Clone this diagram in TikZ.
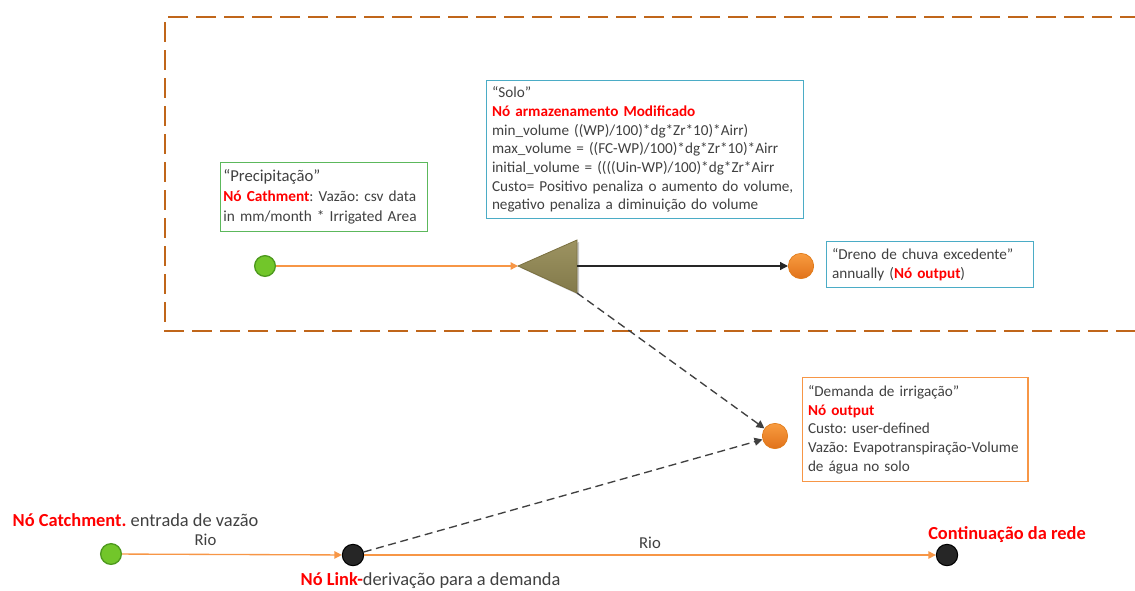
\documentclass[tikz,border=0pt]{standalone}
\usepackage{fontspec}
\setmainfont{Carlito}
\usetikzlibrary{arrows.meta}
\frenchspacing
\definecolor{txt}{HTML}{404040}
\definecolor{frame}{HTML}{C0661A}
\definecolor{flow}{HTML}{F79646}
\definecolor{gfill}{HTML}{72C62A}
\definecolor{gline}{HTML}{4E9A1E}
\definecolor{otop}{HTML}{F99C40}
\definecolor{obot}{HTML}{E0721A}
\definecolor{oline}{HTML}{E07A18}
\definecolor{kfill}{HTML}{262626}
\definecolor{olivefill}{HTML}{948A54}
\definecolor{oliveline}{HTML}{7A7040}
\definecolor{bbox}{HTML}{4BACC6}
\definecolor{gbox}{HTML}{5CB85C}
\definecolor{obox}{HTML}{F79646}
\definecolor{hot}{HTML}{FF0000}
\newcommand{\hl}[1]{\textbf{\color{hot}#1}}
\tikzset{
  px/.style={x=0.75pt,y=-0.75pt},
  base/.style={font=\fontsize{11.4}{14}\selectfont, text=txt},
  gnode/.style={circle, draw=gline, line width=1pt, fill=gfill, minimum size=15.5pt, inner sep=0pt},
  onode/.style={circle, draw=oline, line width=0.5pt, top color=otop, bottom color=obot, minimum size=19pt, inner sep=0pt},
  knode/.style={circle, draw=black, line width=0.8pt, fill=kfill, minimum size=16pt, inner sep=0pt},
  infobox/.style={base, draw, line width=1pt, align=left, anchor=north west, inner xsep=4pt, inner ysep=0pt},
  river/.style={draw=flow, line width=1pt, -{Triangle[length=5.5pt,width=5.5pt]}},
  plain/.style={draw=kfill, line width=1pt, -{Triangle[length=6pt,width=6pt]}},
  dlink/.style={draw=txt, line width=1pt, dash pattern=on 6pt off 3.5pt, -{Triangle[length=6pt,width=6pt]}},
  biglabel/.style={font=\fontsize{13.8}{16}\selectfont},
}
\begin{document}
\begin{tikzpicture}[px, base]
\useasboundingbox (0,0) rectangle (1135,590);

% catchment frame, open to the right
\draw[frame, line width=2pt, dash pattern=on 15pt off 6pt]
  (1140,17) -- (165,17) -- (165,331) -- (1140,331);

% soil storage node
\coordinate (stip) at (518,266);
\coordinate (sbase) at (577,266);
\coordinate (scorner) at (577,293);
\fill[black!22] (521,268) -- (579,242) -- (579,295) -- cycle;
\draw[oliveline, line width=0.6pt, top color=olivefill!92!white, bottom color=olivefill!88!black]
  (stip) -- (577,240) -- (577,293) -- cycle;

% nodes
\node[gnode] (p) at (265,266) {};
\node[onode] (o1) at (801,266) {};
\node[onode] (o2) at (775,436) {};
\node[gnode] (c1) at (111,554) {};
\node[knode] (l1) at (353,555) {};
\node[knode] (e1) at (947,555) {};

% connectors
\draw[river] (p) -- (stip);
\draw[plain] (sbase) -- (o1);
\draw[dlink] (scorner) -- (o2);
\draw[dlink] (l1) -- (o2);
\draw[river] (c1) -- node[pos=0.38, above=3pt, text=txt, font=\fontsize{12.5}{14}\selectfont] (r1) {Rio} (l1);
\draw[river] (l1) -- node[pos=0.5, above=1pt, text=txt, font=\fontsize{12.5}{14}\selectfont] (r2) {Rio} (e1);

% text boxes
\node[infobox, draw=bbox, text width=229.5pt, minimum height=103.5pt] (solo) at (486,80)
  {“Solo”\\
   \hl{Nó armazenamento Modificado}\\
   min\_volume ((WP)/100)*dg*Zr*10)*Airr)\\
   max\_volume = ((FC-WP)/100)*dg*Zr*10)*Airr\\
   initial\_volume = ((((Uin-WP)/100)*dg*Zr*Airr\\
   Custo= Positivo penaliza o aumento do volume,\\
   negativo penaliza a diminuição do volume};

\node[infobox, draw=gbox, inner xsep=2pt, text width=151pt, minimum height=51.75pt,
      font=\fontsize{11.5}{15}\selectfont] (prec) at (220,162)
  {{\fontsize{12.5}{15}\selectfont “Precipitação”}\\
   \hl{Nó Cathment}: Vazão: csv data\\
   in mm/month * Irrigated Area};

\node[infobox, draw=bbox, text width=147pt, minimum height=34.5pt] (dreno) at (826,241)
  {“Dreno de chuva excedente”\\
   annually (\hl{Nó output})};

\node[infobox, draw=obox, text width=161pt, minimum height=78pt] (dem) at (802,377)
  {“Demanda de irrigação”\\
   \hl{Nó output}\\
   Custo: user-defined\\
   \mbox{Vazão: Evapotranspiração-Volume}\\
   de água no solo};

% free labels
\node[anchor=west, biglabel] (lc) at (8,520)
  {\hl{Nó Catchment.} entrada de vazão};
\node[anchor=west, biglabel] (ll) at (296,581)
  {\hl{Nó Link-}derivação para a demanda};
\node[biglabel] (le) at (1007,535)
  {\hl{Continuação da rede}};
\end{tikzpicture}
\end{document}
